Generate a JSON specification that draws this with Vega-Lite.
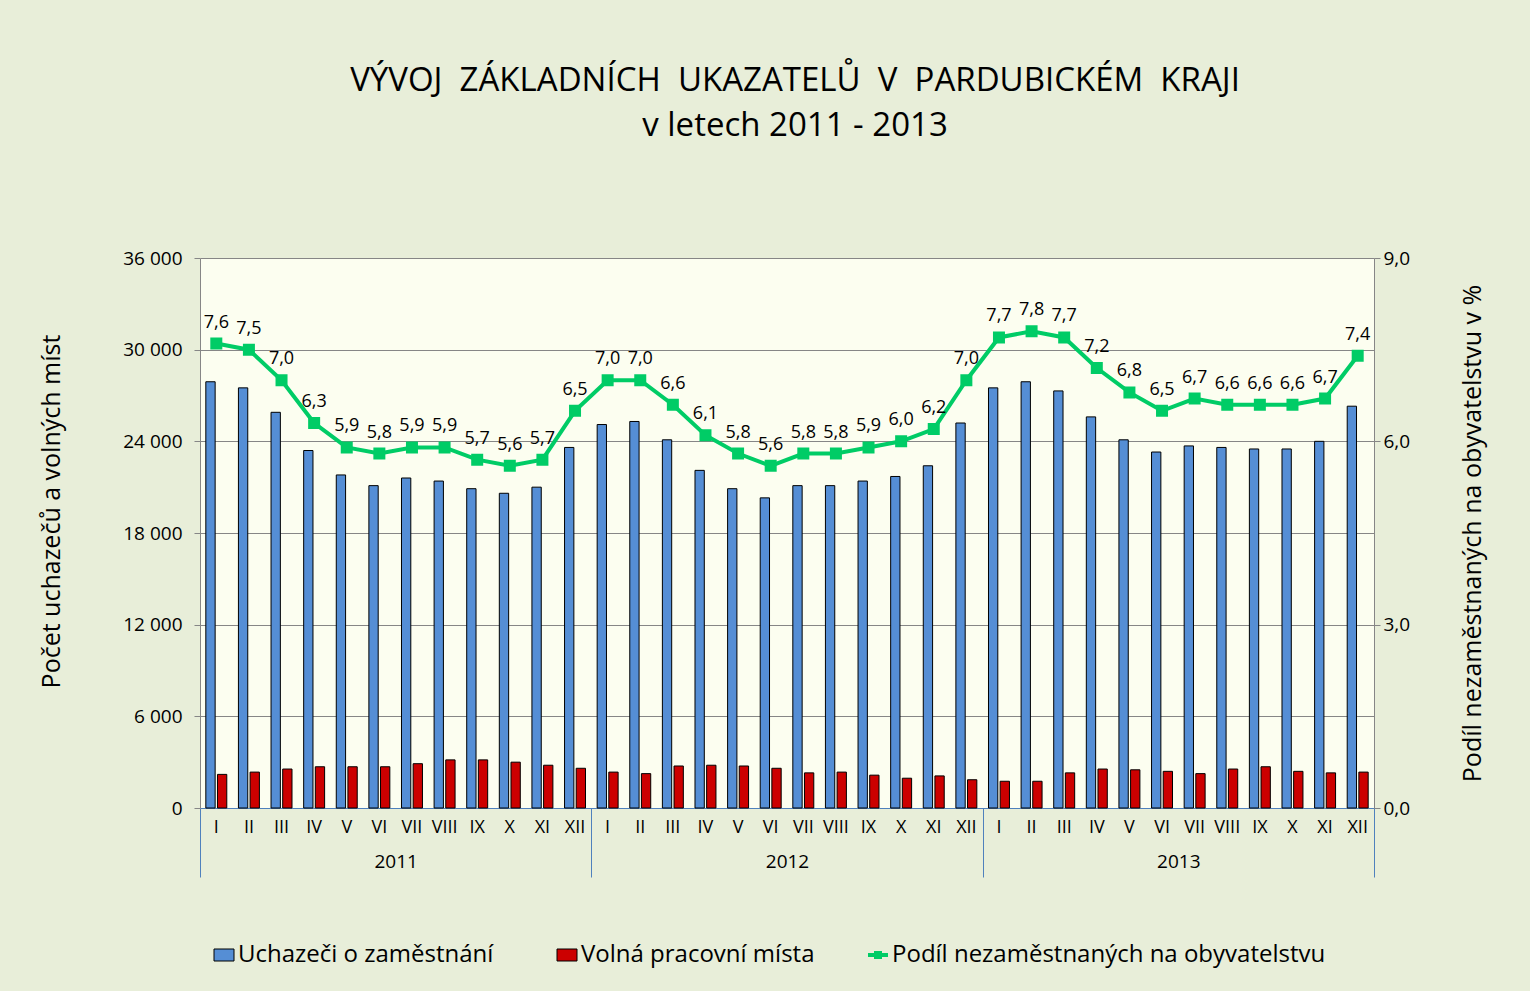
{
  "$schema": "https://vega.github.io/schema/vega-lite/v6.json",
  "width": 1174,
  "height": 550,
  "autosize": {"type": "none"},
  "padding": {"left": 200, "top": 258, "right": 156, "bottom": 183},
  "background": "#E8EED9",
  "title": {
    "text": ["VÝVOJ \u00a0ZÁKLADNÍCH \u00a0UKAZATELŮ \u00a0V \u00a0PARDUBICKÉM \u00a0KRAJI", "v letech 2011 - 2013"],
    "fontSize": 33,
    "fontWeight": "normal",
    "color": "black",
    "lineHeight": 45,
    "offset": 106,
    "anchor": "middle",
    "dx": 8
  },
  "datasets": {
    "bars": [
      {"period": "2011 I", "year": "2011", "series": "Uchazeči o zaměstnání", "value": 27900},
      {"period": "2011 I", "year": "2011", "series": "Volná pracovní místa", "value": 2200},
      {"period": "2011 II", "year": "2011", "series": "Uchazeči o zaměstnání", "value": 27500},
      {"period": "2011 II", "year": "2011", "series": "Volná pracovní místa", "value": 2350},
      {"period": "2011 III", "year": "2011", "series": "Uchazeči o zaměstnání", "value": 25900},
      {"period": "2011 III", "year": "2011", "series": "Volná pracovní místa", "value": 2550},
      {"period": "2011 IV", "year": "2011", "series": "Uchazeči o zaměstnání", "value": 23400},
      {"period": "2011 IV", "year": "2011", "series": "Volná pracovní místa", "value": 2700},
      {"period": "2011 V", "year": "2011", "series": "Uchazeči o zaměstnání", "value": 21800},
      {"period": "2011 V", "year": "2011", "series": "Volná pracovní místa", "value": 2700},
      {"period": "2011 VI", "year": "2011", "series": "Uchazeči o zaměstnání", "value": 21100},
      {"period": "2011 VI", "year": "2011", "series": "Volná pracovní místa", "value": 2700},
      {"period": "2011 VII", "year": "2011", "series": "Uchazeči o zaměstnání", "value": 21600},
      {"period": "2011 VII", "year": "2011", "series": "Volná pracovní místa", "value": 2900},
      {"period": "2011 VIII", "year": "2011", "series": "Uchazeči o zaměstnání", "value": 21400},
      {"period": "2011 VIII", "year": "2011", "series": "Volná pracovní místa", "value": 3150},
      {"period": "2011 IX", "year": "2011", "series": "Uchazeči o zaměstnání", "value": 20900},
      {"period": "2011 IX", "year": "2011", "series": "Volná pracovní místa", "value": 3150},
      {"period": "2011 X", "year": "2011", "series": "Uchazeči o zaměstnání", "value": 20600},
      {"period": "2011 X", "year": "2011", "series": "Volná pracovní místa", "value": 3000},
      {"period": "2011 XI", "year": "2011", "series": "Uchazeči o zaměstnání", "value": 21000},
      {"period": "2011 XI", "year": "2011", "series": "Volná pracovní místa", "value": 2800},
      {"period": "2011 XII", "year": "2011", "series": "Uchazeči o zaměstnání", "value": 23600},
      {"period": "2011 XII", "year": "2011", "series": "Volná pracovní místa", "value": 2600},
      {"period": "2012 I", "year": "2012", "series": "Uchazeči o zaměstnání", "value": 25100},
      {"period": "2012 I", "year": "2012", "series": "Volná pracovní místa", "value": 2350},
      {"period": "2012 II", "year": "2012", "series": "Uchazeči o zaměstnání", "value": 25300},
      {"period": "2012 II", "year": "2012", "series": "Volná pracovní místa", "value": 2250},
      {"period": "2012 III", "year": "2012", "series": "Uchazeči o zaměstnání", "value": 24100},
      {"period": "2012 III", "year": "2012", "series": "Volná pracovní místa", "value": 2750},
      {"period": "2012 IV", "year": "2012", "series": "Uchazeči o zaměstnání", "value": 22100},
      {"period": "2012 IV", "year": "2012", "series": "Volná pracovní místa", "value": 2800},
      {"period": "2012 V", "year": "2012", "series": "Uchazeči o zaměstnání", "value": 20900},
      {"period": "2012 V", "year": "2012", "series": "Volná pracovní místa", "value": 2750},
      {"period": "2012 VI", "year": "2012", "series": "Uchazeči o zaměstnání", "value": 20300},
      {"period": "2012 VI", "year": "2012", "series": "Volná pracovní místa", "value": 2600},
      {"period": "2012 VII", "year": "2012", "series": "Uchazeči o zaměstnání", "value": 21100},
      {"period": "2012 VII", "year": "2012", "series": "Volná pracovní místa", "value": 2300},
      {"period": "2012 VIII", "year": "2012", "series": "Uchazeči o zaměstnání", "value": 21100},
      {"period": "2012 VIII", "year": "2012", "series": "Volná pracovní místa", "value": 2350},
      {"period": "2012 IX", "year": "2012", "series": "Uchazeči o zaměstnání", "value": 21400},
      {"period": "2012 IX", "year": "2012", "series": "Volná pracovní místa", "value": 2150},
      {"period": "2012 X", "year": "2012", "series": "Uchazeči o zaměstnání", "value": 21700},
      {"period": "2012 X", "year": "2012", "series": "Volná pracovní místa", "value": 1950},
      {"period": "2012 XI", "year": "2012", "series": "Uchazeči o zaměstnání", "value": 22400},
      {"period": "2012 XI", "year": "2012", "series": "Volná pracovní místa", "value": 2100},
      {"period": "2012 XII", "year": "2012", "series": "Uchazeči o zaměstnání", "value": 25200},
      {"period": "2012 XII", "year": "2012", "series": "Volná pracovní místa", "value": 1850},
      {"period": "2013 I", "year": "2013", "series": "Uchazeči o zaměstnání", "value": 27500},
      {"period": "2013 I", "year": "2013", "series": "Volná pracovní místa", "value": 1750},
      {"period": "2013 II", "year": "2013", "series": "Uchazeči o zaměstnání", "value": 27900},
      {"period": "2013 II", "year": "2013", "series": "Volná pracovní místa", "value": 1750},
      {"period": "2013 III", "year": "2013", "series": "Uchazeči o zaměstnání", "value": 27300},
      {"period": "2013 III", "year": "2013", "series": "Volná pracovní místa", "value": 2300},
      {"period": "2013 IV", "year": "2013", "series": "Uchazeči o zaměstnání", "value": 25600},
      {"period": "2013 IV", "year": "2013", "series": "Volná pracovní místa", "value": 2550},
      {"period": "2013 V", "year": "2013", "series": "Uchazeči o zaměstnání", "value": 24100},
      {"period": "2013 V", "year": "2013", "series": "Volná pracovní místa", "value": 2500},
      {"period": "2013 VI", "year": "2013", "series": "Uchazeči o zaměstnání", "value": 23300},
      {"period": "2013 VI", "year": "2013", "series": "Volná pracovní místa", "value": 2400},
      {"period": "2013 VII", "year": "2013", "series": "Uchazeči o zaměstnání", "value": 23700},
      {"period": "2013 VII", "year": "2013", "series": "Volná pracovní místa", "value": 2250},
      {"period": "2013 VIII", "year": "2013", "series": "Uchazeči o zaměstnání", "value": 23600},
      {"period": "2013 VIII", "year": "2013", "series": "Volná pracovní místa", "value": 2550},
      {"period": "2013 IX", "year": "2013", "series": "Uchazeči o zaměstnání", "value": 23500},
      {"period": "2013 IX", "year": "2013", "series": "Volná pracovní místa", "value": 2700},
      {"period": "2013 X", "year": "2013", "series": "Uchazeči o zaměstnání", "value": 23500},
      {"period": "2013 X", "year": "2013", "series": "Volná pracovní místa", "value": 2400},
      {"period": "2013 XI", "year": "2013", "series": "Uchazeči o zaměstnání", "value": 24000},
      {"period": "2013 XI", "year": "2013", "series": "Volná pracovní místa", "value": 2300},
      {"period": "2013 XII", "year": "2013", "series": "Uchazeči o zaměstnání", "value": 26300},
      {"period": "2013 XII", "year": "2013", "series": "Volná pracovní místa", "value": 2350}
    ],
    "rate": [
      {"period": "2011 I", "rate": 7.6}, {"period": "2011 II", "rate": 7.5}, {"period": "2011 III", "rate": 7.0},
      {"period": "2011 IV", "rate": 6.3}, {"period": "2011 V", "rate": 5.9}, {"period": "2011 VI", "rate": 5.8},
      {"period": "2011 VII", "rate": 5.9}, {"period": "2011 VIII", "rate": 5.9}, {"period": "2011 IX", "rate": 5.7},
      {"period": "2011 X", "rate": 5.6}, {"period": "2011 XI", "rate": 5.7}, {"period": "2011 XII", "rate": 6.5},
      {"period": "2012 I", "rate": 7.0}, {"period": "2012 II", "rate": 7.0}, {"period": "2012 III", "rate": 6.6},
      {"period": "2012 IV", "rate": 6.1}, {"period": "2012 V", "rate": 5.8}, {"period": "2012 VI", "rate": 5.6},
      {"period": "2012 VII", "rate": 5.8}, {"period": "2012 VIII", "rate": 5.8}, {"period": "2012 IX", "rate": 5.9},
      {"period": "2012 X", "rate": 6.0}, {"period": "2012 XI", "rate": 6.2}, {"period": "2012 XII", "rate": 7.0},
      {"period": "2013 I", "rate": 7.7}, {"period": "2013 II", "rate": 7.8}, {"period": "2013 III", "rate": 7.7},
      {"period": "2013 IV", "rate": 7.2}, {"period": "2013 V", "rate": 6.8}, {"period": "2013 VI", "rate": 6.5},
      {"period": "2013 VII", "rate": 6.7}, {"period": "2013 VIII", "rate": 6.6}, {"period": "2013 IX", "rate": 6.6},
      {"period": "2013 X", "rate": 6.6}, {"period": "2013 XI", "rate": 6.7}, {"period": "2013 XII", "rate": 7.4}
    ]
  },
  "layer": [
    {
      "data": {"name": "bars"},
      "mark": {"type": "bar", "stroke": "black", "strokeWidth": 1},
      "encoding": {
        "x": {
          "field": "period", "type": "nominal", "sort": null,
          "scale": {"paddingInner": 0, "paddingOuter": 0},
          "axis": {
            "title": null, "labelExpr": "split(datum.value, ' ')[1]", "labelAngle": 0,
            "ticks": false, "labelPadding": 10, "labelFontSize": 18,
            "domainColor": "#4F81BD", "domainWidth": 1, "grid": false
          }
        },
        "xOffset": {
          "field": "series", "type": "nominal",
          "sort": ["Uchazeči o zaměstnání", "Volná pracovní místa"],
          "scale": {"paddingInner": 0.2, "paddingOuter": 0.5}
        },
        "y": {
          "field": "value", "type": "quantitative",
          "scale": {"domain": [0, 36000], "nice": false},
          "axis": {
            "title": "Počet uchazečů a volných míst", "titleFontSize": 25, "titlePadding": 58, "titleY": 253,
            "values": [0, 6000, 12000, 18000, 24000, 30000, 36000], "format": ",.0f",
            "grid": true, "gridColor": "#868686", "domainColor": "#868686", "tickColor": "#868686",
            "tickSize": 6, "labelPadding": 12, "labelFontSize": 19
          }
        },
        "color": {
          "field": "series", "type": "nominal",
          "scale": {
            "domain": ["Uchazeči o zaměstnání", "Volná pracovní místa"],
            "range": ["#558ED5", "#CC0000"]
          },
          "legend": {
            "title": null, "orient": "none", "legendX": 12, "legendY": 685, "direction": "horizontal",
            "labelFontSize": 24, "labelColor": "black", "labelLimit": 0, "symbolSize": 400,
            "symbolType": "M-1,-0.6H1V0.6H-1Z", "symbolStrokeColor": "black", "symbolStrokeWidth": 1,
            "columnPadding": 61, "labelOffset": 2, "symbolOpacity": 1
          }
        }
      }
    },
    {
      "data": {"name": "rate"},
      "encoding": {
        "x": {"field": "period", "type": "nominal", "sort": null, "scale": {"paddingInner": 0, "paddingOuter": 0}, "axis": null},
        "y": {
          "field": "rate", "type": "quantitative",
          "scale": {"domain": [0, 9], "nice": false},
          "axis": {
            "orient": "right", "title": "Podíl nezaměstnaných na obyvatelstvu v %", "titleFontSize": 25, "titlePadding": 76,
            "titleAngle": 270,
            "values": [0, 3, 6, 9], "format": ".1f", "grid": false,
            "domainColor": "#868686", "tickColor": "#868686", "tickSize": 6, "labelPadding": 3, "labelFontSize": 19
          }
        }
      },
      "layer": [
        {
          "mark": {"type": "line", "strokeWidth": 4, "color": "#00CC66", "point": {"shape": "square", "size": 100, "filled": true, "color": "#00CC66"}},
          "encoding": {
            "stroke": {
              "datum": "Podíl nezaměstnaných na obyvatelstvu",
              "scale": {"domain": ["Podíl nezaměstnaných na obyvatelstvu"], "range": ["#00CC66"]},
              "legend": {
                "title": null, "orient": "none", "legendX": 666, "legendY": 685,
                "labelFontSize": 24, "labelColor": "black", "labelLimit": 0, "symbolSize": 400,
                "symbolType": "M-1,0H1M-0.2,-0.2H0.2V0.2H-0.2Z", "symbolStrokeWidth": 4,
                "symbolFillColor": "#00CC66", "labelOffset": 2, "symbolOpacity": 1
              }
            }
          }
        },
        {
          "mark": {"type": "text", "dy": -21, "fontSize": 18, "color": "black"},
          "encoding": {"text": {"field": "rate", "type": "quantitative", "format": ".1f"}}
        }
      ]
    },
    {
      "data": {"name": "bars"},
      "mark": {"type": "tick", "opacity": 0},
      "encoding": {
        "x": {
          "field": "year", "type": "nominal",
          "scale": {"paddingInner": 0, "paddingOuter": 0},
          "axis": {
            "title": null, "orient": "bottom", "domain": false, "ticks": true, "tickBand": "extent",
            "tickSize": 69, "tickColor": "#4F81BD", "tickWidth": 1, "labelPadding": -25,
            "labelFontSize": 19, "labelAngle": 0, "grid": false
          }
        }
      }
    }
  ],
  "resolve": {"scale": {"x": "independent", "y": "independent"}},
  "config": {
    "font": "Open Sans",
    "view": {"fill": "#FCFEF0", "stroke": null},
    "axis": {"labelColor": "black", "titleColor": "black", "titleFontWeight": "normal"},
    "locale": {"number": {"decimal": ",", "thousands": " ", "grouping": [3], "currency": ["", " Kč"]}}
  }
}
